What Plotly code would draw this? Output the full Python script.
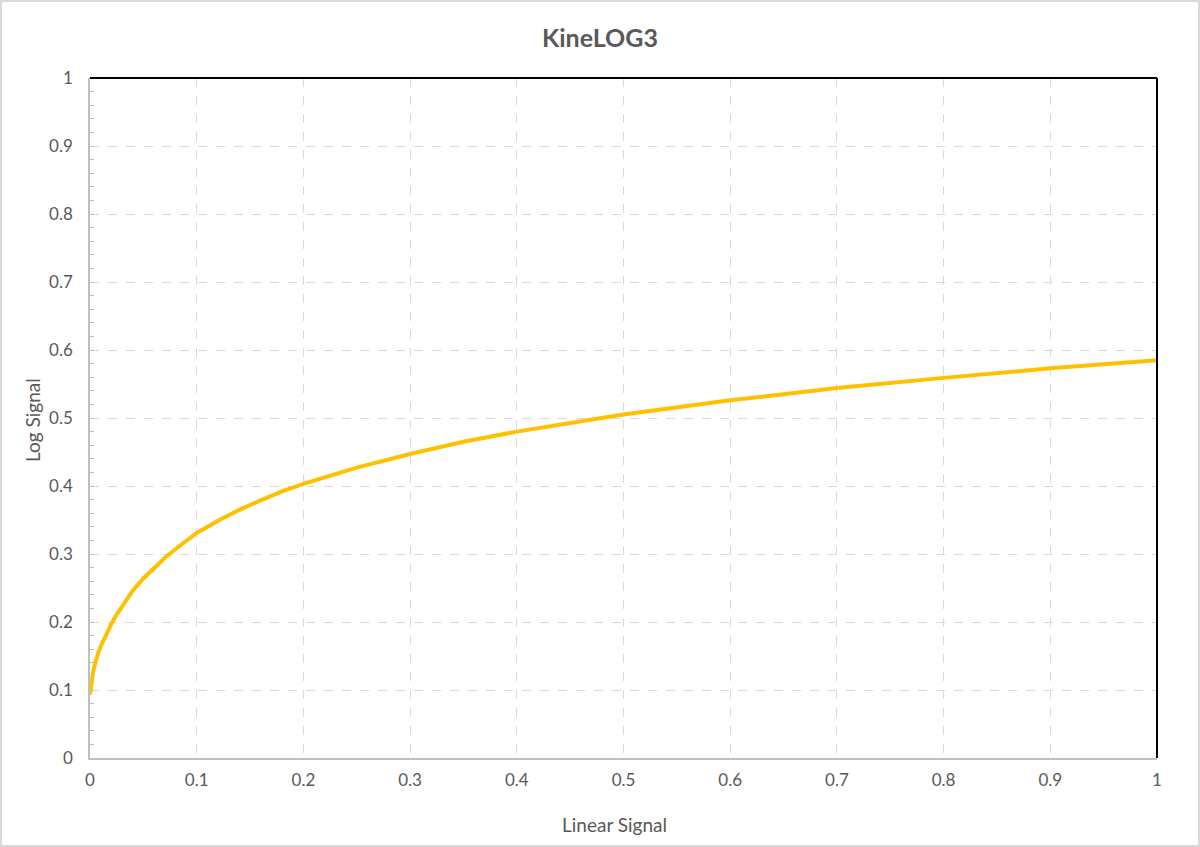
import plotly.graph_objects as go

# Data
linear_signal = [0, 0.001, 0.002, 0.003, 0.0045, 0.006, 0.0075, 0.01, 0.0125, 0.015,
                 0.0175, 0.02, 0.025, 0.03, 0.035, 0.04, 0.05, 0.06, 0.07, 0.08, 0.09,
                 0.1, 0.12, 0.14, 0.16, 0.18, 0.2, 0.25, 0.3, 0.35, 0.4, 0.45, 0.5,
                 0.6, 0.7, 0.8, 0.9, 1.0]
log_signal = [0.093, 0.107, 0.118, 0.127, 0.137, 0.146, 0.154, 0.164, 0.173, 0.181,
              0.189, 0.197, 0.211, 0.223, 0.235, 0.246, 0.264, 0.280, 0.294, 0.307, 0.319,
              0.331, 0.349, 0.365, 0.379, 0.392, 0.403, 0.427, 0.447, 0.465, 0.480, 0.493, 0.505,
              0.526, 0.544, 0.559, 0.573, 0.585]

tick_vals = [0, 0.1, 0.2, 0.3, 0.4, 0.5, 0.6, 0.7, 0.8, 0.9, 1]
tick_text = ["0", "0.1", "0.2", "0.3", "0.4", "0.5", "0.6", "0.7", "0.8", "0.9", "1"]

W, H = 1200, 847
ML, MR, MT, MB = 90, 43, 78, 89
PW, PH = W - ML - MR, H - MT - MB

FONT = "Lato, 'Open Sans', sans-serif"
TXT = "#595959"

fig = go.Figure()
fig.add_trace(go.Scatter(
    x=linear_signal, y=log_signal, mode="lines",
    line=dict(color="#FFC000", width=4, shape="linear"),
    showlegend=False, hoverinfo="skip",
))

axis_common = dict(
    range=[0, 1], tickvals=tick_vals, ticktext=tick_text,
    showgrid=True, gridcolor="#d9d9d9", gridwidth=1, griddash="dash",
    zeroline=False, showline=True, linecolor="#bfbfbf", linewidth=1.5,
    tickfont=dict(family=FONT, size=17, color=TXT),
    fixedrange=True,
)

fig.update_layout(
    width=W, height=H,
    margin=dict(l=ML, r=MR, t=MT, b=MB),
    paper_bgcolor="white", plot_bgcolor="white",
    title=dict(text="<b>KineLOG3</b>", x=0.5, xanchor="center", y=1 - 38 / H, yanchor="middle",
               font=dict(family=FONT, size=25, color=TXT)),
    xaxis=dict(**axis_common, ticks="", ticklabelstandoff=6),
    yaxis=dict(**axis_common, ticks="inside", ticklen=4, tickcolor="#bfbfbf",
               minor=dict(ticks="inside", ticklen=4, dtick=0.02, tickcolor="#bfbfbf", showgrid=False),
               ticklabelstandoff=12),
    annotations=[
        dict(text="Linear Signal", xref="paper", yref="paper",
             x=(614 - ML) / PW, y=-(824 - (H - MB)) / PH, xanchor="center", yanchor="middle",
             showarrow=False, font=dict(family=FONT, size=19, color=TXT)),
        dict(text="Log Signal", xref="paper", yref="paper", textangle=-90,
             x=(32 - ML) / PW, y=((H - MB) - 420) / PH, xanchor="center", yanchor="middle",
             showarrow=False, font=dict(family=FONT, size=19, color=TXT)),
    ],
    shapes=[
        # black top and right plot borders
        dict(type="line", xref="paper", yref="paper", x0=0, x1=1, y0=1, y1=1,
             line=dict(color="black", width=2)),
        dict(type="line", xref="paper", yref="paper", x0=1, x1=1, y0=0, y1=1,
             line=dict(color="black", width=2)),
        # outer chart border
        dict(type="rect", xref="paper", yref="paper",
             x0=-(ML - 1) / PW, x1=1 + (MR - 1) / PW,
             y0=-(MB - 1) / PH, y1=1 + (MT - 1) / PH,
             line=dict(color="#d9d9d9", width=2), layer="below"),
    ],
)

fig.write_html("out.html", config={"displayModeBar": False},
               post_script="document.body.style.margin='0';")
